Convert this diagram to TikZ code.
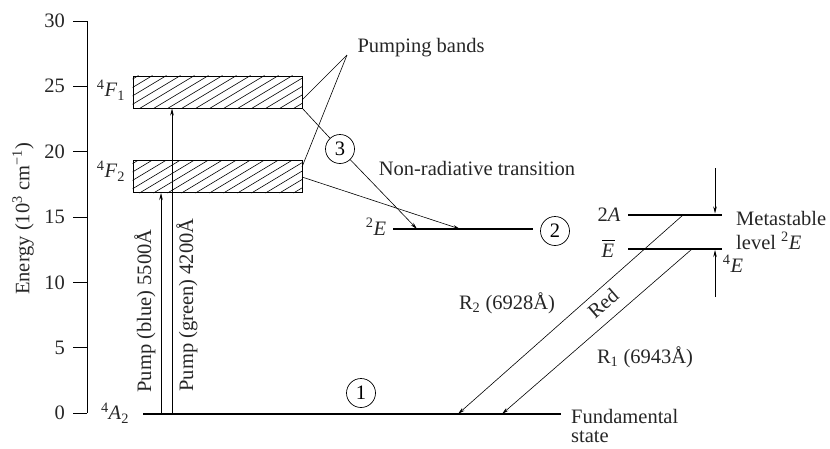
\documentclass[tikz,border=0pt]{standalone}
\usepackage{fontspec}
\setmainfont{Liberation Serif}
\usetikzlibrary{arrows.meta,calc}
\tikzset{
 lvl/.style={line width=1.5pt},
 conn/.style={line width=0.6pt},
 arr/.style={conn,-{Stealth[length=7pt,width=3.5pt]}},
 lbl/.style={font=\fontsize{20.5}{24}\selectfont, text=black!85, inner sep=0pt},
 num/.style={circle,draw,line width=0.7pt,minimum size=29pt,inner sep=0pt,font=\fontsize{20.5}{24}\selectfont},
 band/.style={draw,line width=1pt,minimum width=169pt,minimum height=32pt,inner sep=0pt}
}
\newcommand\SupT[1]{\textsuperscript{#1}}
\newcommand\SubT[1]{\textsubscript{#1}}
\begin{document}
\begin{tikzpicture}[x=1pt,y=-1pt]
\useasboundingbox (0,0) rectangle (830,448);
% axis
\coordinate (ax0) at (87,413);
\coordinate (ax30) at (87,21);
\draw[conn] (ax30) -- (ax0);
\foreach \v in {0,5,...,30} {
  \coordinate (tk\v) at (87,{413-13.07*\v});
  \draw[conn] (tk\v) -- ++(-14,0);
  \node[lbl,anchor=east] (tl\v) at (65,{413-13.07*\v}) {\v};
}
\node[lbl,rotate=90] (ylab) at (23,219) {Energy (10\SupT{3} cm\SupT{−1})};
% bands
\node[band] (F1) at (217.5,92) {};
\node[band] (F2) at (217.5,176.5) {};
\foreach \b in {F1,F2} {
  \begin{scope}
    \clip (\b.south west) rectangle (\b.north east);
    \foreach \x in {70,84,...,310} {
      \draw[conn] ($(\b.south west)+(\x-133,0)$) -- ++(55,-33);
    }
  \end{scope}
}
\node[lbl] (F1l) at (111,90) {\SupT{4}\textit{F}\SubT{1}};
\node[lbl] (F2l) at (111,171) {\SupT{4}\textit{F}\SubT{2}};
% ground
\coordinate (g1) at (143,414);
\coordinate (g2) at (561,414);
\draw[lvl] (g1) -- (g2);
\node[lbl] (A2l) at (115,413) {\SupT{4}\textit{A}\SubT{2}};
\node[lbl,anchor=west] (fund) at (571,416) {Fundamental};
\node[lbl,anchor=west] (state) at (571,437) {state};
\node[num] (c1) at (361,393) {1};
% pumps
\coordinate (pb) at (161,414);
\coordinate (pg) at (172,414);
\draw[arr] (pb) -- (pb |- F2.south);
\draw[arr] (pg) -- (pg |- F1.south);
\node[lbl,rotate=90] (pbl) at (145,311) {Pump (blue) 5500Å};
\node[lbl,rotate=90] (pgl) at (187,305) {Pump (green) 4200Å};
% 2E level
\coordinate (e1) at (393,229);
\coordinate (e2) at (533,229);
\draw[lvl] (e1) -- (e2);
\node[lbl] (El) at (376,227) {\SupT{2}\textit{E}};
\node[num] (c2) at (555,231) {2};
% pumping bands
\node[lbl] (pbands) at (421,48) {Pumping bands};
\coordinate (pa) at (347,55);
\coordinate (pF1) at (302,100);
\coordinate (pF2) at (302,167);
\draw[conn] (pa) -- (pF1);
\draw[conn] (pa) -- (pF2);
% non radiative
\node[num] (c3) at (340,149) {3};
\coordinate (nr1) at (417,229);
\coordinate (nr2) at (460,229);
\coordinate (F2o) at (302,177);
\draw[conn] (F1.south east) -- (c3);
\draw[arr] (c3) -- (nr1);
\draw[arr] (F2o) -- (nr2);
\node[lbl] (nrl) at (477,168) {Non-radiative transition};
% metastable
\coordinate (a1) at (628,215);
\coordinate (a2) at (722,215);
\coordinate (b1) at (628,249);
\coordinate (b2) at (722,249);
\draw[lvl] (a1) -- (a2);
\draw[lvl] (b1) -- (b2);
\node[lbl] (Al) at (609,215) {2\textit{A}};
\node[lbl] (Ebl) at (608,251) {\textit{E}};
\draw[line width=0.9pt] ($(Ebl.north west)+(0.5,-4)$) -- ($(Ebl.north east)+(0.5,-4)$);
\coordinate (d1) at (715,168);
\coordinate (d2) at (715,213.5);
\coordinate (u1) at (715,297);
\coordinate (u2) at (715,250);
\draw[arr] (d1) -- (d2);
\draw[arr] (u1) -- (u2);
\node[lbl] (dEl) at (733,264) {\SupT{4}\textit{E}};
\node[lbl,anchor=west] (meta) at (736,218) {Metastable};
\node[lbl,anchor=west] (lev) at (736,241) {level \SupT{2}\textit{E}};
% red transitions
\coordinate (r2s) at (683,215);
\coordinate (r2e) at (458,414);
\coordinate (r1s) at (692,249);
\coordinate (r1e) at (502,414);
\draw[arr] (r2s) -- (r2e);
\draw[arr] (r1s) -- (r1e);
\node[lbl,rotate=41] (red) at (603,303) {Red};
\node[lbl] (r2l) at (507,303) {R\SubT{2} (6928Å)};
\node[lbl] (r1l) at (645,357) {R\SubT{1} (6943Å)};
\end{tikzpicture}
\end{document}
